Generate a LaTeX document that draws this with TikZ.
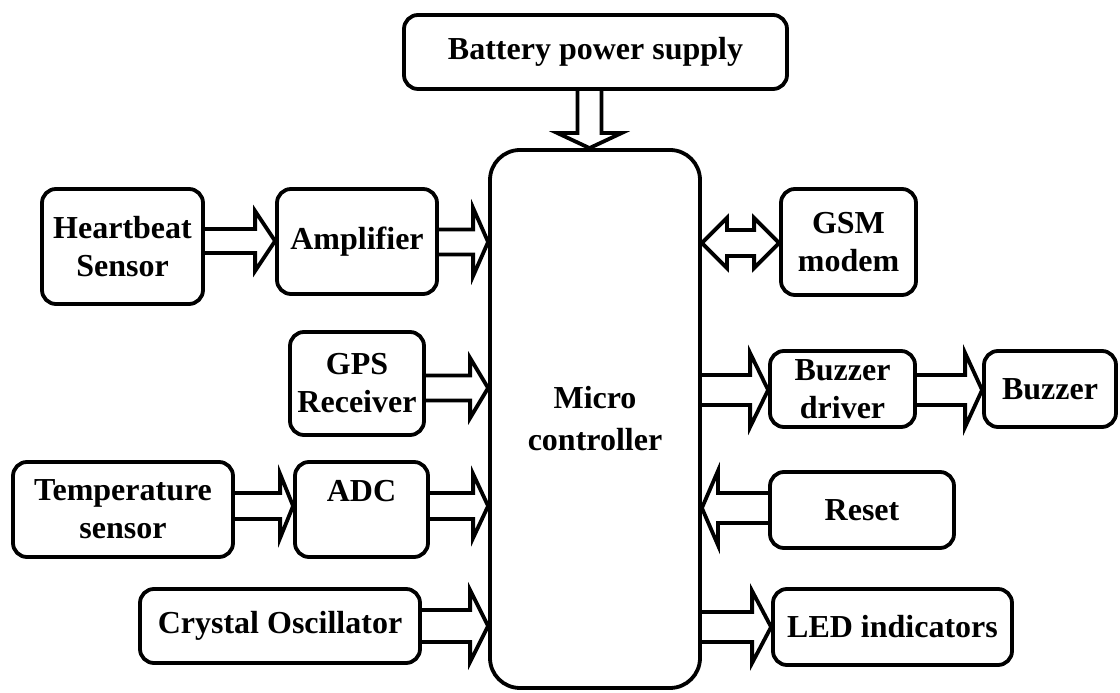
\documentclass[tikz,border=0pt]{standalone}
\usepackage{fontspec}
\setmainfont{Liberation Serif}
\usetikzlibrary{calc}
\tikzset{
  box/.style={draw, line width=3.8pt, rounded corners=14pt, align=center, inner sep=0pt,
    font=\fontsize{32}{38}\selectfont\bfseries},
  fat/.style={draw, line width=3.8pt, line join=miter, miter limit=20}
}
% right-pointing hollow arrow: src, dst, y, shaft half, head half, head length
\newcommand\fatR[6]{\draw[fat] let \p1=(#1.east), \p2=(#2.west) in
  (\x1,#3pt+#4pt) -- (\x2-#6pt,#3pt+#4pt) -- (\x2-#6pt,#3pt+#5pt) -- (\x2,#3pt)
  -- (\x2-#6pt,#3pt-#5pt) -- (\x2-#6pt,#3pt-#4pt) -- (\x1,#3pt-#4pt);}
\newcommand\fatL[6]{\draw[fat] let \p1=(#1.west), \p2=(#2.east) in
  (\x1,#3pt+#4pt) -- (\x2+#6pt,#3pt+#4pt) -- (\x2+#6pt,#3pt+#5pt) -- (\x2,#3pt)
  -- (\x2+#6pt,#3pt-#5pt) -- (\x2+#6pt,#3pt-#4pt) -- (\x1,#3pt-#4pt);}
\begin{document}
\begin{tikzpicture}[x=1pt,y=1pt]
\useasboundingbox (0,0) rectangle (1120,693);
\node[box, minimum width=383pt, minimum height=74pt] (bat) at (595.5,641) {Battery power supply};
\node[box, rounded corners=30pt, minimum width=210pt, minimum height=538pt,
  font=\fontsize{32}{42}\selectfont\bfseries] (micro) at (595,274) {Micro\\controller};
\node[box, minimum width=161pt, minimum height=115pt] (hb) at (122.5,446.5) {Heartbeat\\Sensor};
\node[box, minimum width=160pt, minimum height=105pt] (amp) at (357,451.5) {Amplifier};
\node[box, minimum width=135pt, minimum height=106pt] (gsm) at (848.5,451) {GSM\\modem};
\node[box, minimum width=134pt, minimum height=103pt] (gps) at (357,309.5) {GPS\\Receiver};
\node[box, minimum width=220pt, minimum height=95pt] (temp) at (123,183.5) {Temperature\\sensor};
\node[box, minimum width=133pt, minimum height=95pt] (adc) at (361.5,183.5) {ADC\\\phantom{A}};
\node[box, minimum width=280pt, minimum height=74pt] (cry) at (280,67) {Crystal Oscillator};
\node[box, minimum width=145pt, minimum height=76pt] (bd) at (842.5,304) {Buzzer\\driver};
\node[box, minimum width=132pt, minimum height=76pt] (buz) at (1050,304) {Buzzer};
\node[box, minimum width=184pt, minimum height=76pt] (rst) at (862,183) {Reset};
\node[box, minimum width=239pt, minimum height=76pt] (led) at (892.5,66) {LED indicators};
% battery -> micro (down)
\draw[fat] let \p1=(bat.south), \p2=(micro.north) in
  (\x1-6pt-12pt,\y1) -- (\x1-6pt-12pt,\y2+15pt) -- (\x1-6pt-32pt,\y2+15pt) -- (\x1-6pt,\y2)
  -- (\x1-6pt+32pt,\y2+15pt) -- (\x1-6pt+12pt,\y2+15pt) -- (\x1-6pt+12pt,\y1);
\fatR{hb}{amp}{452}{12}{30}{20}
\fatR{amp}{micro}{451}{12.5}{34}{15}
\fatR{gps}{micro}{305}{12.5}{30}{18}
\fatR{temp}{adc}{187}{13}{32}{13}
\fatR{adc}{micro}{187}{13}{32}{15}
\fatR{cry}{micro}{67}{16}{36}{18}
\fatR{micro}{bd}{303}{15}{37}{18}
\fatR{bd}{buz}{303}{15}{37}{17}
\fatL{rst}{micro}{185}{15}{37}{16}
\fatR{micro}{led}{66}{15}{36}{19}
% micro <-> gsm
\draw[fat] let \p1=(micro.east), \p2=(gsm.west) in
  (\x1,450pt) -- (\x1+25pt,475pt) -- (\x1+25pt,463pt) -- (\x2-25pt,463pt) -- (\x2-25pt,475pt)
  -- (\x2,450pt) -- (\x2-25pt,425pt) -- (\x2-25pt,437pt) -- (\x1+25pt,437pt) -- (\x1+25pt,425pt) -- cycle;
\end{tikzpicture}
\end{document}
